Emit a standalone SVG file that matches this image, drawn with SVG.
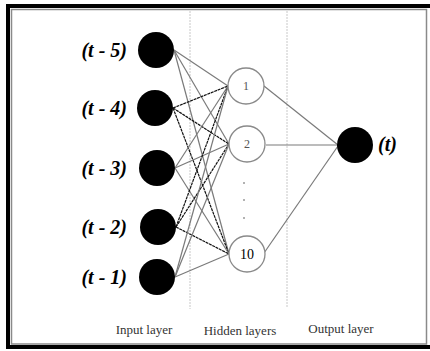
<svg xmlns="http://www.w3.org/2000/svg" width="430" height="351" viewBox="0 0 430 351">
<style>
.inp{fill:#000}
.hid{fill:#fff;stroke:#8a8a8a;stroke-width:1.3}
.lbl{font-family:"Liberation Serif",serif;font-weight:bold;font-style:italic;font-size:20px;fill:#000}
.num{font-family:"Liberation Serif",serif;font-size:12px;fill:#555;text-anchor:middle}
.lay{font-family:"Liberation Serif",serif;font-size:13px;fill:#333;text-anchor:middle}
.g{stroke:#7a7a7a;stroke-width:1.2;fill:none}
.k{stroke:#111;stroke-width:1.2;fill:none;stroke-dasharray:3 0.7}
.sep{stroke:#c8c8c8;stroke-width:1;stroke-dasharray:2 1}
.dot{fill:#999}
</style>
<rect width="430" height="351" fill="#fff"/>
<g id="frame">
<rect x="6" y="4" width="424" height="4" fill="#000"/>
<rect x="6" y="4" width="4" height="345" fill="#000"/>
<rect x="6" y="345" width="424" height="4" fill="#000"/>
<rect x="11.5" y="9.5" width="415" height="334.5" fill="none" stroke="#8a8a8a" stroke-width="1.5"/>
</g>
<g id="separators">
<line class="sep" x1="190" y1="11" x2="190" y2="309"/>
<line class="sep" x1="287" y1="11" x2="287" y2="308"/>
</g>
<g id="connectors">
<line class="g" x1="174" y1="50" x2="228" y2="86"/>
<line class="g" x1="174" y1="50" x2="229" y2="144"/>
<line class="g" x1="174" y1="50" x2="229" y2="254"/>
<line class="k" x1="173" y1="108" x2="228" y2="86"/>
<line class="k" x1="173" y1="108" x2="229" y2="144"/>
<line class="k" x1="173" y1="108" x2="229" y2="254"/>
<line class="g" x1="175" y1="168" x2="228" y2="86"/>
<line class="g" x1="175" y1="168" x2="229" y2="144"/>
<line class="g" x1="175" y1="168" x2="229" y2="254"/>
<line class="k" x1="176" y1="227" x2="228" y2="86"/>
<line class="k" x1="176" y1="227" x2="229" y2="144"/>
<line class="k" x1="176" y1="227" x2="229" y2="254"/>
<line class="g" x1="175" y1="277" x2="228" y2="86"/>
<line class="g" x1="175" y1="277" x2="229" y2="144"/>
<line class="g" x1="175" y1="277" x2="229" y2="254"/>
<line class="g" x1="264" y1="86" x2="338" y2="145"/>
<line class="g" x1="266" y1="145" x2="338" y2="145"/>
<line class="g" x1="264" y1="253" x2="338" y2="146"/>
</g>
<g id="in5"><circle class="inp" cx="156" cy="50" r="18"/><text class="lbl" x="127" y="57" text-anchor="end">(t - 5)</text></g>
<g id="in4"><circle class="inp" cx="155" cy="108" r="18"/><text class="lbl" x="127" y="115" text-anchor="end">(t - 4)</text></g>
<g id="in3"><circle class="inp" cx="157" cy="168" r="18"/><text class="lbl" x="127" y="175" text-anchor="end">(t - 3)</text></g>
<g id="in2"><circle class="inp" cx="158" cy="227" r="18"/><text class="lbl" x="127" y="234" text-anchor="end">(t - 2)</text></g>
<g id="in1"><circle class="inp" cx="157" cy="277" r="18"/><text class="lbl" x="127" y="284" text-anchor="end">(t - 1)</text></g>
<g id="h1"><circle class="hid" cx="246" cy="86" r="18"/><text class="num" x="246" y="90">1</text></g>
<g id="h2"><circle class="hid" cx="247" cy="144" r="18"/><text class="num" x="247" y="148">2</text></g>
<g id="hdots"><circle class="dot" cx="244" cy="183" r="1"/><circle class="dot" cx="244" cy="200" r="1"/><circle class="dot" cx="244" cy="218" r="1"/></g>
<g id="h10"><circle class="hid" cx="247" cy="254" r="18"/><text class="num" x="247" y="259" style="font-size:14px;fill:#000">10</text></g>
<g id="out"><circle class="inp" cx="355" cy="145" r="18"/><text class="lbl" x="378" y="151">(t)</text></g>
<g id="layers">
<text class="lay" x="144" y="334">Input layer</text>
<text class="lay" x="240" y="335">Hidden layers</text>
<text class="lay" x="341" y="333">Output layer</text>
</g>
</svg>
